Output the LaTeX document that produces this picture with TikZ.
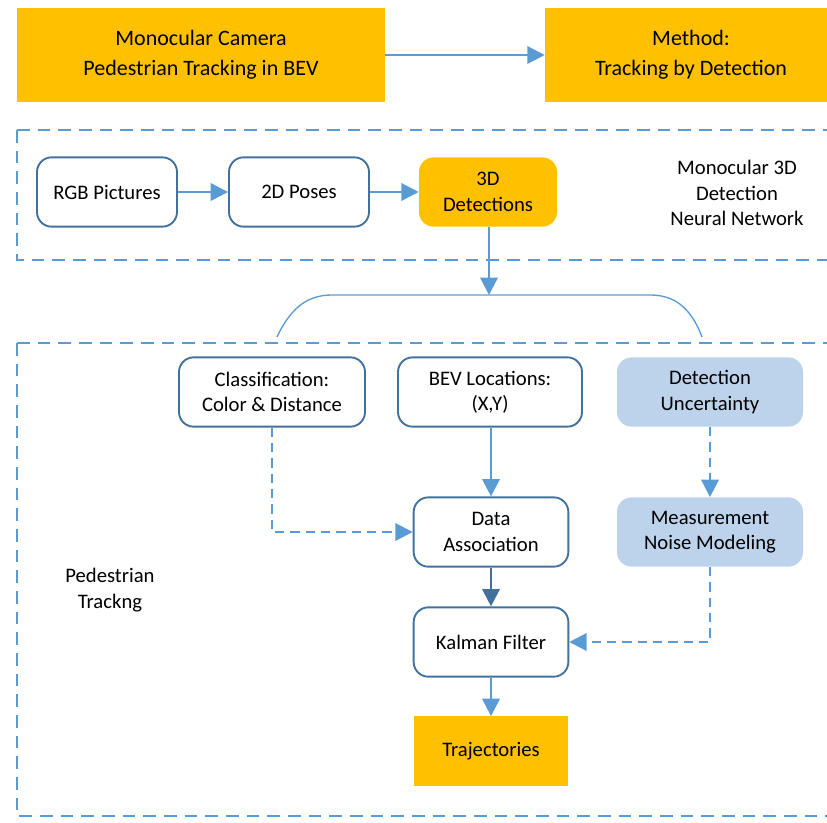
\documentclass[tikz,border=0pt]{standalone}
\usepackage{fontspec}
\setmainfont{Carlito}
\usetikzlibrary{arrows.meta}
\usetikzlibrary{positioning}
\definecolor{boxorange}{HTML}{FFC000}
\definecolor{lineblue}{HTML}{5B9BD5}
\definecolor{edgeblue}{HTML}{41719C}
\definecolor{paleblue}{HTML}{BDD3EC}
\tikzset{topbox/.style = {rectangle, fill=boxorange, align=center, inner sep=0pt,
                          minimum height=71pt, font=\fontsize{16.5}{22.5}\selectfont},
         stagebox/.style = {rectangle, rounded corners=11pt, align=center, inner sep=0pt,
                            minimum width=105pt, minimum height=52pt,
                            font=\fontsize{15.5}{19}\selectfont},
         plainbox/.style = {stagebox, draw=edgeblue, line width=1.4pt, fill=white},
         paleboxstyle/.style = {stagebox, fill=paleblue},
         flow/.style = {draw=lineblue, line width=1.7pt, -{Triangle[length=13pt,width=13pt]}},
         dashflow/.style = {flow, dash pattern=on 7pt off 4.5pt},
         region/.style = {draw=lineblue, line width=1.3pt, dash pattern=on 9.5pt off 6pt}}

\begin{document}
\begin{tikzpicture}[x=0.75pt, y=-0.75pt]
    \clip (0, 0) rectangle (827, 822);

    \draw [region] (17, 130) -- (850, 130) (17, 130) -- (17, 260) -- (850, 260);
    \draw [region] (17, 343) -- (850, 343) (17, 343) -- (17, 816) -- (850, 816);

    \node [topbox, minimum width=276pt] (camera) at (201, 55) {Monocular Camera\\Pedestrian Tracking in BEV};
    \node [topbox, minimum width=219pt] (method) at (691, 55) {Method:\\Tracking by Detection};
    \draw [flow] (camera) -- (method);

    \node [plainbox] (rgb) at (107, 192) {RGB Pictures};
    \node [plainbox] (poses) at (299, 192) {2D Poses};
    \node [stagebox, fill=boxorange, minimum width=103.5pt] (det3d) at (488, 192) {3D\\Detections};
    \node [align=center, font=\fontsize{15.5}{19}\selectfont] (netlabel) at (737, 193) {Monocular 3D\\Detection\\Neural Network};
    \draw [flow] (rgb) -- (poses);
    \draw [flow] (poses) -- (det3d);

    \coordinate (bracetop) at (489, 295);
    \draw [flow] (det3d.south -| bracetop) -- (bracetop);
    \draw [lineblue, line width=1pt] (277, 337) .. controls (292, 305) and (310, 295) .. (332, 295)
          -- (650, 295) .. controls (672, 295) and (690, 305) .. (702, 337);

    \node [plainbox, minimum width=139.5pt] (classif) at (272, 392) {Classification:\\Color \& Distance};
    \node [plainbox, minimum width=138pt] (bev) at (490, 392) {BEV Locations:\\(X,Y)};
    \node [paleboxstyle, minimum width=139.5pt] (uncert) at (710, 392) {Detection\\Uncertainty};
    \node [plainbox, minimum width=116pt] (assoc) at (491, 532) {Data\\Association};
    \node [paleboxstyle, minimum width=139.5pt] (noise) at (710, 532) {Measurement\\Noise Modeling};
    \node [plainbox, minimum width=116pt] (kalman) at (491, 642) {Kalman Filter};
    \node [topbox, minimum width=116pt, minimum height=52pt, font=\fontsize{15.5}{19}\selectfont] (traj) at (491, 751) {Trajectories};
    \node [align=center, font=\fontsize{15.5}{19}\selectfont] (tracklabel) at (110, 590) {Pedestrian\\Trackng};

    \draw [dashflow] (classif.south) |- (assoc.west);
    \draw [flow] (bev.south -| assoc) -- (assoc.north);
    \draw [dashflow] (uncert) -- (noise);
    \draw [flow, draw=edgeblue] (assoc) -- (kalman);
    \draw [dashflow] (noise.south) |- (kalman.east);
    \draw [flow] (kalman) -- (traj);
  \end{tikzpicture}
\end{document}
